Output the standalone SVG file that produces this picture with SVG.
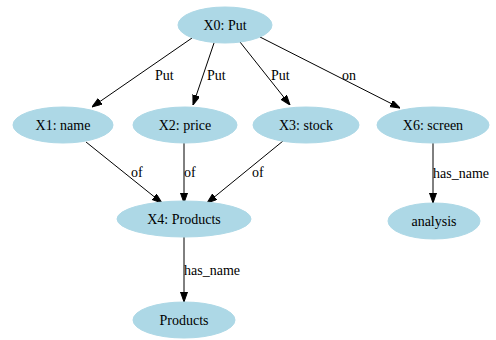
<svg xmlns="http://www.w3.org/2000/svg" width="496" height="340" viewBox="0 0 496 340" font-family="'Liberation Serif', 'DejaVu Serif', 'Times New Roman', serif">
<style>
.n ellipse{fill:#add8e6;stroke:#add8e6;}
text{font-family:'Liberation Serif','DejaVu Serif','Times New Roman',serif;font-size:14px;fill:#000;}
.n text{text-anchor:middle;}
.e line{stroke:#000;stroke-width:1;marker-end:url(#ah);}
</style>
<defs>
<marker id="ah" markerUnits="userSpaceOnUse" markerWidth="10" markerHeight="8" refX="10" refY="3.5" orient="auto">
<path d="M0,0 L10,3.5 L0,7 z" fill="#000" stroke="#000"/>
</marker>
</defs>
<rect width="496" height="340" fill="#fff"/>
<g id="edges" class="e">
<line x1="192" y1="38" x2="92" y2="107"/>
<line x1="214" y1="43" x2="193" y2="105"/>
<line x1="240" y1="42" x2="290" y2="105"/>
<line x1="260" y1="37" x2="400" y2="108"/>
<line x1="86" y1="142" x2="162" y2="203"/>
<line x1="184" y1="143" x2="184" y2="203"/>
<line x1="283" y1="141" x2="207" y2="203"/>
<line x1="184" y1="236" x2="184" y2="302"/>
<line x1="433" y1="142" x2="433" y2="203"/>
<text x="155" y="80">Put</text>
<text x="207" y="80">Put</text>
<text x="271" y="80">Put</text>
<text x="342" y="80">on</text>
<text x="131" y="177">of</text>
<text x="184" y="177">of</text>
<text x="252" y="177">of</text>
<text x="184" y="275">has_name</text>
<text x="433" y="178">has_name</text>
</g>
<g id="X0" class="n"><ellipse cx="225" cy="25" rx="47" ry="18"/><text x="225" y="30">X0: Put</text></g>
<g id="X1" class="n"><ellipse cx="63" cy="125" rx="50" ry="18"/><text x="63" y="130">X1: name</text></g>
<g id="X2" class="n"><ellipse cx="185" cy="125" rx="52" ry="18"/><text x="185" y="130">X2: price</text></g>
<g id="X3" class="n"><ellipse cx="306" cy="125" rx="53" ry="18"/><text x="306" y="130">X3: stock</text></g>
<g id="X6" class="n"><ellipse cx="433" cy="125" rx="56" ry="18"/><text x="433" y="130">X6: screen</text></g>
<g id="X4" class="n"><ellipse cx="184" cy="219" rx="67" ry="18"/><text x="184" y="224">X4: Products</text></g>
<g id="analysis" class="n"><ellipse cx="434" cy="221" rx="46" ry="18"/><text x="434" y="226">analysis</text></g>
<g id="Products" class="n"><ellipse cx="184" cy="320" rx="51" ry="18"/><text x="184" y="325">Products</text></g>
</svg>
